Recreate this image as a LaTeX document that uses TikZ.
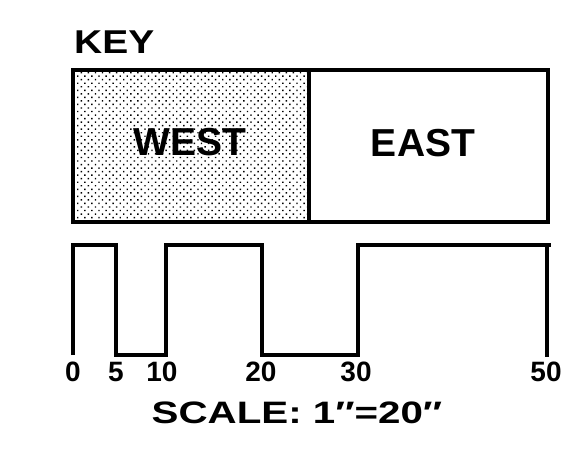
\documentclass[tikz,border=0pt]{standalone}
\usepackage{fontspec}
\setmainfont{Liberation Sans}
\newfontfamily\widefont[FakeStretch=1.18]{Liberation Sans}
\newfontfamily\widerfont[FakeStretch=1.3]{Liberation Sans}
\usetikzlibrary{patterns.meta}
\tikzset{
  keyline/.style={line width=3.2pt, line join=miter},
  scaleline/.style={line width=3.2pt, line join=miter},
  areatext/.style={font=\fontsize{39}{42}\selectfont\bfseries},
  digit/.style={font=\fontsize{28}{30}\selectfont\bfseries, inner sep=0pt, anchor=base},
}
\begin{document}
\begin{tikzpicture}[x=1pt,y=-1pt]
\useasboundingbox (0,0) rectangle (586,458);
% key title
\node[font=\widefont\fontsize{33}{35}\selectfont\bfseries, anchor=base west, inner sep=0pt] (keytitle) at (74,53) {KEY};
% key boxes
\path[pattern={Dots[distance=5pt,angle=45,radius=1pt]}] (73,70) rectangle (309,222);
\node[keyline, draw, minimum width=236pt, minimum height=152pt, inner sep=0pt] (west) at (191,146) {};
\node[keyline, draw, minimum width=239pt, minimum height=152pt, inner sep=0pt] (east) at (428.5,146) {};
\node[areatext, inner sep=0pt] (westlbl) at (190,142) {WEST};
\node[areatext, inner sep=0pt] (eastlbl) at (423,143) {EAST};
% scale waveform
\coordinate (s0) at (73,355);
\coordinate (s5) at (116,355);
\coordinate (s10) at (166,355);
\coordinate (s20) at (262,355);
\coordinate (s30) at (358,355);
\coordinate (s50) at (547,357);
\draw[scaleline] (s0) -- (73,245) -- (116,245) -- (s5) -- (s10) -- (166,245) -- (262,245) -- (s20) -- (s30) -- (358,245) -- (551,245);
\draw[scaleline] (547,245) -- (s50);
% labels
\node[digit] (l0) at (73,381) {0};
\node[digit] (l5) at (116,381) {5};
\node[digit] (l10) at (162,381) {10};
\node[digit] (l20) at (261,381) {20};
\node[digit] (l30) at (356,381) {30};
\node[digit] (l50) at (546,381) {50};
\node[font=\widerfont\fontsize{31}{33}\selectfont\bfseries, inner sep=0pt, anchor=base] (scaletxt) at (297,423) {SCALE:\ 1″=20″};
\end{tikzpicture}
\end{document}
